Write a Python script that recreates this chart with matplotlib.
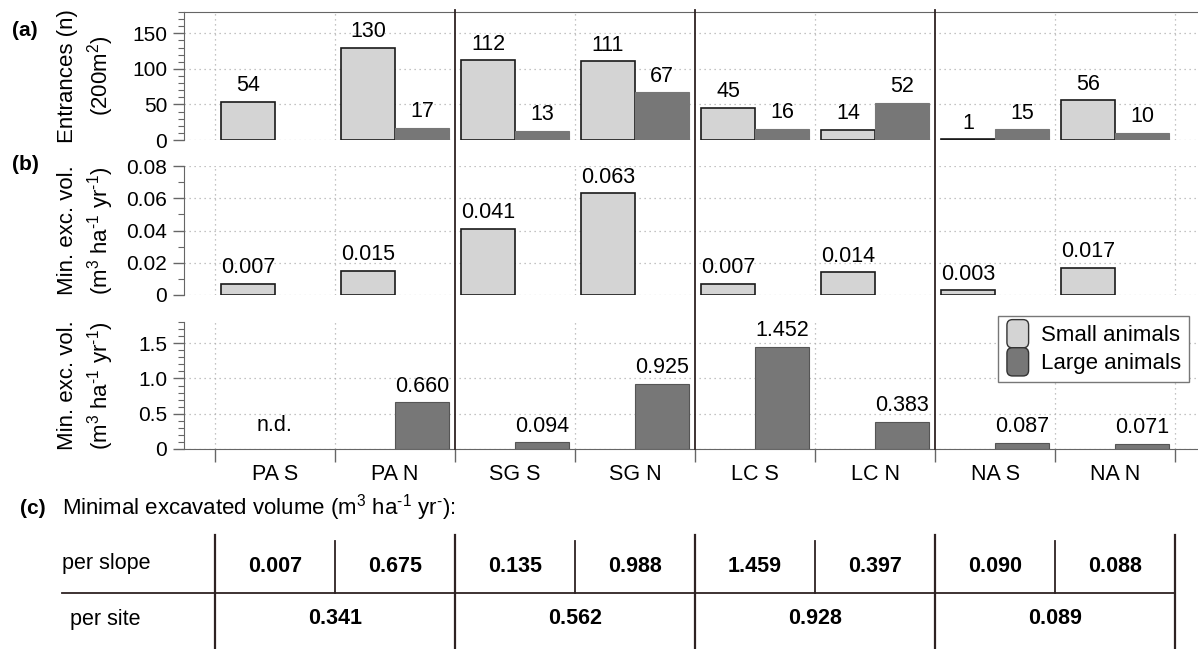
import numpy as np
import matplotlib
matplotlib.use('Agg')
import matplotlib.pyplot as plt
import matplotlib.transforms as mtransforms
from matplotlib.patches import FancyBboxPatch, Patch
from matplotlib.legend_handler import HandlerPatch
from matplotlib.lines import Line2D
from matplotlib.ticker import MultipleLocator

plt.rcParams['font.family'] = ['Liberation Sans', 'DejaVu Sans']
plt.rcParams['mathtext.fontset'] = 'custom'
plt.rcParams['mathtext.rm'] = 'Liberation Sans'
plt.rcParams['mathtext.it'] = 'Liberation Sans:italic'
plt.rcParams['mathtext.bf'] = 'Liberation Sans:bold'

# data
slopes = ['PA S', 'PA N', 'SG S', 'SG N', 'LC S', 'LC N', 'NA S', 'NA N']
entr_small = [54, 130, 112, 111, 45, 14, 1, 56]
entr_large = [None, 17, 13, 67, 16, 52, 15, 10]
vol_small = [0.007, 0.015, 0.041, 0.063, 0.007, 0.014, 0.003, 0.017]
vol_large = [None, 0.660, 0.094, 0.925, 1.452, 0.383, 0.087, 0.071]
per_slope = [0.007, 0.675, 0.135, 0.988, 1.459, 0.397, 0.090, 0.088]
per_site = [0.341, 0.562, 0.928, 0.089]

C_SMALL = '#d4d4d4'
C_LARGE = '#777777'
C_SEP = '#2e2222'
C_SPINE = '#666666'
C_GRID = '#b0b0b0'

W, H = 1198, 649
fig = plt.figure(figsize=(W / 100, H / 100), dpi=100)

L = 184 / W
AW = (1198 - 184) / W
XLIM = (-0.758, 7.69)
bw = 0.45
x = np.arange(len(slopes))

VOL_LAB = 'Min. exc. vol.\n(m$^3$ ha$^{\\text{-}1}$ yr$^{\\text{-}1}$)'


def panel(top, bot):
    return fig.add_axes([L, 1 - bot / H, AW, (bot - top) / H])


def style(ax, yt, ylab, ymax, minor):
    ax.set_xlim(XLIM)
    ax.set_ylim(0, ymax)
    ax.set_yticks(yt)
    ax.set_yticklabels(ylab)
    ax.yaxis.set_minor_locator(MultipleLocator(minor))
    ax.tick_params(axis='y', which='major', length=8, width=1, color=C_SPINE, labelsize=15, pad=4)
    ax.tick_params(axis='y', which='minor', length=4.5, width=0.8, color=C_SPINE)
    for s in ['top', 'right', 'bottom']:
        ax.spines[s].set_visible(False)
    ax.spines['left'].set_color(C_SPINE)
    for v in yt:
        ax.axhline(v, color=C_GRID, lw=0.9, ls=(0, (1, 3)), zorder=0)
    for b in np.arange(-0.5, 8, 1):
        if b in (1.5, 3.5, 5.5):
            continue
        ax.axvline(b, color=C_GRID, lw=0.9, ls=(0, (1, 3)), zorder=0)


def draw_bars(ax, vals, offset, color, fmt, edge, lw):
    idx = [i for i, v in enumerate(vals) if v is not None]
    hv = [vals[i] for i in idx]
    bars = ax.bar(x[idx] + offset, hv, width=bw, color=color, edgecolor=edge, linewidth=lw, zorder=2)
    ax.bar_label(bars, labels=[fmt(v) for v in hv], padding=4, fontsize=15.5)


# (a) entrances
ax1 = panel(12, 140)
style(ax1, [0, 50, 100, 150], ['0', '50', '100', '150'], 180, 10)
ax1.spines['top'].set_visible(True)
ax1.spines['top'].set_color(C_SPINE)
ax1.set_xticks([])
draw_bars(ax1, entr_small, -bw / 2, C_SMALL, lambda v: f'{v:d}', '#1a1a1a', 1.2)
draw_bars(ax1, entr_large, bw / 2, C_LARGE, lambda v: f'{v:d}', C_LARGE, 0.8)
ax1.set_ylabel('Entrances (n)\n(200m$^2$)', fontsize=16, linespacing=1.3)

# (b) small animals volume
ax2 = panel(166, 295)
style(ax2, [0, 0.02, 0.04, 0.06, 0.08], ['0', '0.02', '0.04', '0.06', '0.08'], 0.08, 0.01)
ax2.set_xticks([])
draw_bars(ax2, vol_small, -bw / 2, C_SMALL, lambda v: f'{v:.3f}', '#1a1a1a', 1.2)
ax2.set_ylabel(VOL_LAB, fontsize=16, linespacing=1.3)

# large animals volume
ax3 = panel(322, 449)
style(ax3, [0, 0.5, 1.0, 1.5], ['0', '0.5', '1.0', '1.5'], 1.8, 0.1)
ax3.spines['bottom'].set_visible(True)
ax3.spines['bottom'].set_color(C_SPINE)
draw_bars(ax3, vol_large, bw / 2, C_LARGE, lambda v: f'{v:.3f}', '#555555', 0.8)
ax3.text(x[0], 0.19, 'n.d.', ha='center', va='bottom', fontsize=15.5)
ax3.set_xticks(np.arange(-0.5, 8, 1))
ax3.set_xticklabels([])
ax3.set_xticks(x, minor=True)
ax3.set_xticklabels(slopes, minor=True)
ax3.tick_params(axis='x', which='major', length=9.5, width=1, color=C_SPINE)
ax3.tick_params(axis='x', which='minor', length=0, labelsize=15.5, pad=11)
ax3.set_ylabel(VOL_LAB, fontsize=16, linespacing=1.3)

for ax in (ax1, ax2, ax3):
    ax.yaxis.set_label_coords((116 - 184) / 1014, 0.5)


class RoundHandle(HandlerPatch):
    def create_artists(self, legend, orig_handle, xdescent, ydescent, width, height, fontsize, trans):
        p = FancyBboxPatch((-xdescent + 1, -ydescent - 3), width - 2, height + 6,
                           boxstyle='round,pad=0,rounding_size=4',
                           fc=orig_handle.get_facecolor(), ec='#333333', lw=1.0, transform=trans)
        return [p]


handles = [Patch(facecolor=C_SMALL), Patch(facecolor=C_LARGE)]
leg = ax3.legend(handles, ['Small animals', 'Large animals'], loc='upper right',
                 bbox_to_anchor=((1189 - 184) / 1014, (449 - 316) / 127), borderaxespad=0,
                 fontsize=16, fancybox=False, edgecolor='#777777', framealpha=1,
                 handlelength=1.1, handleheight=1.0, labelspacing=0.25, handletextpad=0.5,
                 borderpad=0.35, handler_map={Patch: RoundHandle()})
leg.get_frame().set_linewidth(1.0)

# site separators running through the panels
tr = mtransforms.blended_transform_factory(ax3.transData, fig.transFigure)
for b in (1.5, 3.5, 5.5):
    fig.add_artist(Line2D([b, b], [1 - 449 / H, 1 - 10 / H], transform=tr, color=C_SEP, lw=1.3))

# panel letters
fig.text(12 / W, 1 - 30 / H, '(a)', fontsize=15, fontweight='bold', va='center')
fig.text(12 / W, 1 - 165 / H, '(b)', fontsize=15, fontweight='bold', va='center')
fig.text(20 / W, 1 - 508 / H, '(c)', fontsize=15, fontweight='bold', va='center')
fig.text(62 / W, 1 - 508 / H, 'Minimal excavated volume (m$^3$ ha$^{\\text{-}1}$ yr$^{\\text{-}}$):',
         fontsize=16, va='center')

# (c) table
axt = fig.add_axes([L, 0, AW, (H - 480) / H])
axt.set_xlim(XLIM)
axt.set_ylim(H, 480)
axt.axis('off')
axt.plot([(62 - 275) / 120, 7.5], [593, 593], color=C_SEP, lw=1.3, clip_on=False)
for b in (-0.5, 1.5, 3.5, 5.5, 7.5):
    axt.plot([b, b], [535, 648], color=C_SEP, lw=1.6, clip_on=False)
for b in (0.5, 2.5, 4.5, 6.5):
    axt.plot([b, b], [541, 593], color=C_SEP, lw=1.3, clip_on=False)
axt.text((62 - 275) / 120, 564, 'per slope', fontsize=15.5, ha='left', va='center', clip_on=False)
axt.text((70 - 275) / 120, 619, 'per site', fontsize=15.5, ha='left', va='center', clip_on=False)
for i, v in enumerate(per_slope):
    axt.text(x[i], 566, f'{v:.3f}', fontsize=15.5, fontweight='bold', ha='center', va='center')
for k, v in enumerate(per_site):
    axt.text(2 * k + 0.5, 619, f'{v:.3f}', fontsize=15.5, fontweight='bold', ha='center', va='center')

fig.savefig('out.png', dpi=100)
